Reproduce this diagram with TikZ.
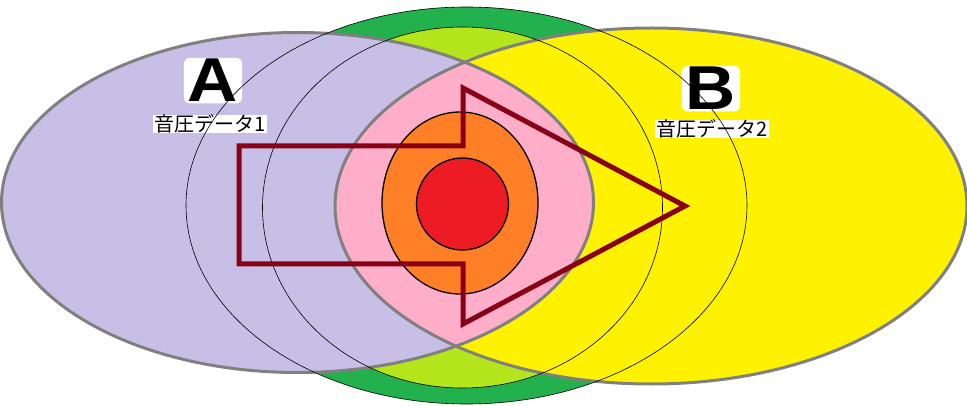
\documentclass[tikz,border=0pt]{standalone}
\usepackage{fontspec}
\newfontfamily\jpfont{Noto Sans CJK JP}
\newfontfamily\lblfont{Liberation Sans}
\definecolor{cDGreen}{RGB}{34,177,76}
\definecolor{cLGreen}{RGB}{181,230,29}
\definecolor{cPurple}{RGB}{200,191,231}
\definecolor{cYellow}{RGB}{255,242,0}
\definecolor{cPink}{RGB}{255,174,201}
\definecolor{cOrange}{RGB}{255,127,39}
\definecolor{cRed}{RGB}{237,28,36}
\definecolor{cGray}{RGB}{128,128,128}
\definecolor{cMaroon}{RGB}{136,0,21}
\begin{document}
\begin{tikzpicture}[x=1pt,y=-1pt,
  grayline/.style={draw=cGray,line width=3pt},
  thinline/.style={draw=black,line width=0.6pt},
  coreline/.style={draw=black,line width=1.3pt},
  bigletter/.style={font=\lblfont\bfseries\fontsize{62}{62}\selectfont,fill=white,inner xsep=4pt,inner ysep=1.5pt,rounded corners=6pt,anchor=base},
  jplabel/.style={font=\jpfont\fontsize{20}{20}\selectfont,fill=white,inner xsep=1pt,inner ysep=0pt},
  arrowline/.style={draw=cMaroon,line width=5pt,line join=miter}]
\useasboundingbox (0,0) rectangle (967,406);
% outer green rings
\fill[cDGreen] (466.5,205.5) ellipse [x radius=280.5pt, y radius=198.5pt];
\fill[cLGreen] (462.5,207.5) ellipse [x radius=200pt, y radius=180.5pt];
% A and B
\fill[cPurple] (297.5,202.5) ellipse [x radius=296pt, y radius=170pt];
\fill[cYellow] (651,206) ellipse [x radius=316pt, y radius=178pt];
\begin{scope}
  \clip (297.5,202.5) ellipse [x radius=296pt, y radius=170pt];
  \fill[cPink] (651,206) ellipse [x radius=316pt, y radius=178pt];
\end{scope}
\draw[grayline] (297.5,202.5) ellipse [x radius=296pt, y radius=170pt];
\draw[grayline] (651,206) ellipse [x radius=316pt, y radius=178pt];
% core
\filldraw[fill=cOrange,coreline] (460,203) ellipse [x radius=78pt, y radius=91pt];
\filldraw[fill=cRed,coreline] (462.5,204) circle [radius=46pt];
% labels
\node[bigletter] (la) at (213,102) {\scalebox{1.12}[1]{A}};
\node[jplabel] (ta) at (210,124) {音圧データ1};
\node[bigletter] (lb) at (711,110) {\scalebox{1.12}[1]{B}};
\node[jplabel] (tb) at (712,129) {音圧データ2};
% thin ellipses
\draw[thinline] (466.5,205.5) ellipse [x radius=280.5pt, y radius=198.5pt];
\draw[thinline] (462.5,207.5) ellipse [x radius=200pt, y radius=180.5pt];
% arrow
\draw[arrowline] (239,146) -- (463,146) -- (463,88) -- (685,206) -- (463,324) -- (463,264) -- (239,264) -- cycle;
\end{tikzpicture}
\end{document}
